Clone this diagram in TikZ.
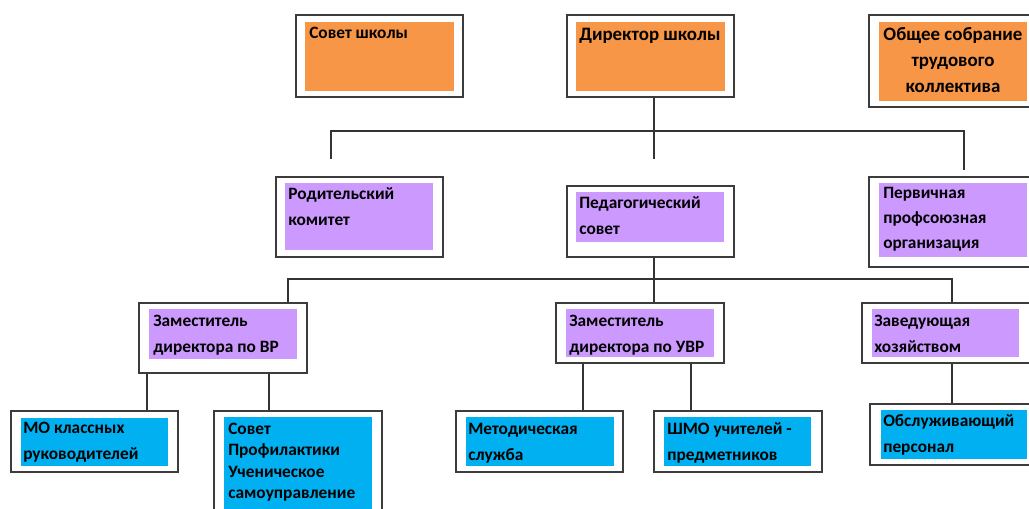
\documentclass[tikz,border=0pt]{standalone}
\usepackage{fontspec}
\setmainfont{Carlito}
\usetikzlibrary{fit}
\definecolor{orng}{HTML}{F79646}
\definecolor{prpl}{HTML}{CC99FF}
\definecolor{blu}{HTML}{00B0F0}
\definecolor{frm}{HTML}{3C3C3C}
\begin{document}
\begin{tikzpicture}[x=0.75pt,y=-0.75pt,
  frame/.style={draw=frm,line width=1.1pt,fill=white,inner sep=0pt},
  txt/.style={anchor=base west,inner sep=0pt,align=left,font=\fontsize{13}{19.5}\selectfont\bfseries},
  bigtxt/.style={txt,font=\fontsize{14.2}{19.5}\selectfont\bfseries},
  link/.style={draw=black!80,line width=0.9pt}]
\useasboundingbox (0,0) rectangle (1029,509);
\fill[white] (0,0) rectangle (1029,509);
% ---------- row 1 (text nodes placed at the baseline of their last line)
\node[frame,fit={(296,15)(463,97)}] (sovet) {};
\fill[orng] (305,22) rectangle (454,91);
\node[txt] (sovett) at (309,39) {Совет школы};
\node[frame,fit={(567,15)(734,97)}] (dir) {};
\fill[orng] (576,22) rectangle (725,91);
\node[bigtxt] (dirt) at (579,41) {Директор школы};
\node[frame,fit={(869,15)(1031,107)}] (obsh) {};
\fill[orng] (879,22) rectangle (1027,101);
\node[bigtxt,anchor=base,align=center] (obsht) at (953,93) {Общее собрание\\трудового\\коллектива};
% ---------- row 2
\node[frame,fit={(276,177)(443,257)}] (rod) {};
\fill[prpl] (285,183) rectangle (433,250);
\node[txt] (rodt) at (288,226) {Родительский\\комитет};
\node[frame,fit={(567,186)(734,257)}] (ped) {};
\fill[prpl] (576,192) rectangle (724,242);
\node[txt] (pedt) at (579,235) {Педагогический\\совет};
\node[frame,fit={(869,177)(1031,267)}] (perv) {};
\fill[prpl] (879,183) rectangle (1027,257);
\node[txt,font=\fontsize{13}{19}\selectfont\bfseries] (pervt) at (883,249) {Первичная\\профсоюзная\\организация};
% ---------- row 3
\node[frame,fit={(139,303)(307,373)}] (vr) {};
\fill[prpl] (149,309) rectangle (297,359);
\node[txt] (vrt) at (153,353) {Заместитель\\директора по ВР};
\node[frame,fit={(556,303)(724,363)}] (uvr) {};
\fill[prpl] (566,309) rectangle (714,357);
\node[txt] (uvrt) at (569,353) {Заместитель\\директора по УВР};
\node[frame,fit={(862,303)(1031,363)}] (zav) {};
\fill[prpl] (872,309) rectangle (1019,357);
\node[txt] (zavt) at (874,353) {Заведующая\\хозяйством};
% ---------- row 4
\node[frame,fit={(11,411)(178,472)}] (mo) {};
\fill[blu] (21,418) rectangle (168,466);
\node[txt] (mot) at (23,460) {МО классных\\руководителей};
\node[frame,fit={(214,411)(382,515)}] (prof) {};
\fill[blu] (224,417) rectangle (372,515);
\node[txt,font=\fontsize{13}{16.2}\selectfont\bfseries] (proft) at (228,499) {Совет\\Профилактики\\Ученическое\\самоуправление};
\node[frame,fit={(456,411)(623,472)}] (met) {};
\fill[blu] (466,417) rectangle (614,466);
\node[txt] (mett) at (468,461) {Методическая\\служба};
\node[frame,fit={(654,411)(822,472)}] (shmo) {};
\fill[blu] (664,417) rectangle (811,466);
\node[txt] (shmot) at (667,461) {ШМО учителей -\\предметников};
\node[frame,fit={(870,404)(1031,465)}] (obsl) {};
\fill[blu] (881,410) rectangle (1027,459);
\node[txt] (obslt) at (883,453) {Обслуживающий\\персонал};
% ---------- connectors
\coordinate (b1) at (654,131);
\coordinate (l1) at (331,131);
\coordinate (r1) at (964,131);
\coordinate (l1e) at (331,159);
\coordinate (c1e) at (654,159);
\coordinate (r1e) at (964,170);
\draw[link] (dir.south -| b1) -- (b1);
\draw[link] (l1e) -- (l1) -- (r1) -- (r1e);
\draw[link] (b1) -- (c1e);
\coordinate (b2) at (654,279);
\coordinate (l2) at (288,279);
\coordinate (r2) at (952,279);
\draw[link] (ped.south -| b2) -- (uvr.north -| b2);
\draw[link] (vr.north -| l2) -- (l2) -- (r2) -- (zav.north -| r2);
\draw[link] (vr.south -| 147,0) -- (mo.north -| 147,0);
\draw[link] (vr.south -| 269,0) -- (prof.north -| 269,0);
\draw[link] (uvr.south -| 583,0) -- (met.north -| 583,0);
\draw[link] (uvr.south -| 691,0) -- (shmo.north -| 691,0);
\draw[link] (zav.south -| 952,0) -- (obsl.north -| 952,0);
\end{tikzpicture}
\end{document}
